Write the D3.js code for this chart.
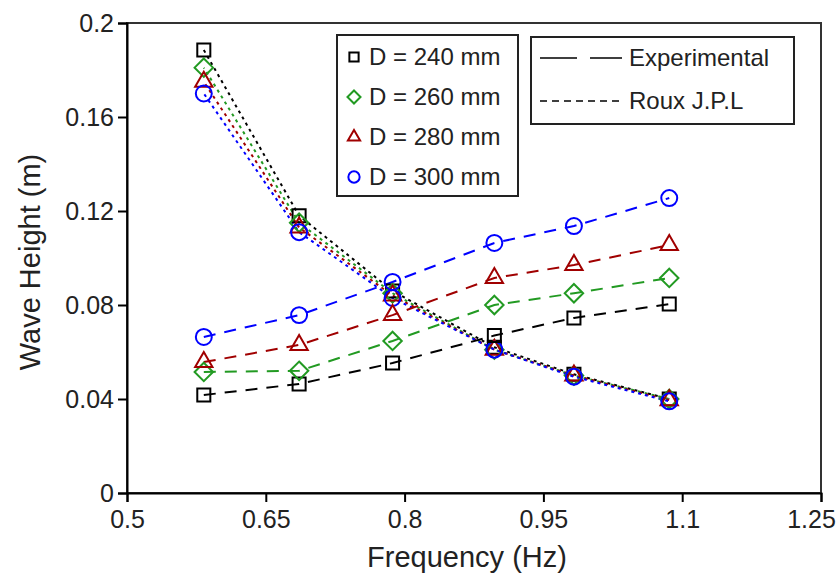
<!DOCTYPE html>
<html>
<head>
<meta charset="utf-8">
<script src="https://cdn.jsdelivr.net/npm/d3@7"></script>
<style>
  html, body { margin: 0; padding: 0; background: #fff; }
  svg { display: block; font-family: "Liberation Sans", Arial, sans-serif; }
</style>
</head>
<body>
<div id="chart"></div>
<script>
const frequencies = [0.583, 0.686, 0.787, 0.897, 0.983, 1.086];
const seriesLabels = ["D = 240 mm", "D = 260 mm", "D = 280 mm", "D = 300 mm"];
const seriesColors = ["#000000", "#229a22", "#a00000", "#0000ff"];
const seriesSymbols = ["square", "diamond", "triangle", "circle"];

const expD240 = [0.0417, 0.0464, 0.0553, 0.0670, 0.0745, 0.0804];
const expD260 = [0.0515, 0.0520, 0.0647, 0.0800, 0.0850, 0.0915];
const expD280 = [0.0557, 0.0630, 0.0757, 0.0915, 0.0970, 0.1055];
const expD300 = [0.0664, 0.0757, 0.0898, 0.1064, 0.1136, 0.1255];

const rouxD240 = [0.1885, 0.1180, 0.0860, 0.0620, 0.0505, 0.0400];
const rouxD260 = [0.1810, 0.1150, 0.0850, 0.0610, 0.0500, 0.0400];
const rouxD280 = [0.1750, 0.1130, 0.0840, 0.0610, 0.0500, 0.0395];
const rouxD300 = [0.1700, 0.1110, 0.0830, 0.0610, 0.0495, 0.0390];

const xTicks = [0.5, 0.65, 0.8, 0.95, 1.1, 1.25];
const yTicks = [0, 0.04, 0.08, 0.12, 0.16, 0.2];

const expSeries = [expD240, expD260, expD280, expD300];
const rouxSeries = [rouxD240, rouxD260, rouxD280, rouxD300];

const width = 838, height = 583;
const margin = { top: 23, right: 17, bottom: 90, left: 127 };

const x = d3.scaleLinear().domain([0.5, 1.25]).range([margin.left, width - margin.right]);
const y = d3.scaleLinear().domain([0, 0.2]).range([height - margin.bottom, margin.top]);

const svg = d3.select("#chart").append("svg")
  .attr("width", width)
  .attr("height", height);

// frame (top / right)
svg.append("rect")
  .attr("x", x(0.5)).attr("y", y(0.2))
  .attr("width", x(1.25) - x(0.5)).attr("height", y(0) - y(0.2))
  .attr("fill", "none").attr("stroke", "#333").attr("stroke-width", 2);

const xAxis = svg.append("g")
  .attr("transform", `translate(0,${y(0)})`)
  .call(d3.axisBottom(x).tickValues(xTicks).tickSize(9).tickPadding(8)
    .tickFormat(d => String(d)));
const yAxis = svg.append("g")
  .attr("transform", `translate(${x(0.5)},0)`)
  .call(d3.axisLeft(y).tickValues(yTicks).tickSize(9).tickPadding(4)
    .tickFormat(d => String(d)));

[xAxis, yAxis].forEach(a => {
  a.select(".domain").attr("stroke", "#000").attr("stroke-width", 2);
  a.selectAll(".tick line").attr("stroke", "#000").attr("stroke-width", 2);
  a.selectAll(".tick text").attr("fill", "#222").style("font-size", "25px")
    .style("font-family", "'Liberation Sans', Arial, sans-serif");
});
// last x label sits a bit inside the edge, as in the original
xAxis.selectAll(".tick text").filter(d => d === 1.25).attr("x", -10);

svg.append("text")
  .attr("x", 467).attr("y", 567)
  .attr("text-anchor", "middle")
  .style("font-size", "29px").attr("fill", "#222")
  .text("Frequency (Hz)");

svg.append("text")
  .attr("transform", "translate(40,262) rotate(-90)")
  .attr("text-anchor", "middle")
  .style("font-size", "29px").attr("fill", "#222")
  .text("Wave Height (m)");

const diamond = {
  draw(ctx, size) {
    const r = Math.sqrt(size / 2);
    ctx.moveTo(0, -r); ctx.lineTo(r, 0); ctx.lineTo(0, r); ctx.lineTo(-r, 0); ctx.closePath();
  }
};
const symbolTypes = { square: d3.symbolSquare, circle: d3.symbolCircle, triangle: d3.symbolTriangle, diamond: diamond };
const symbolSizes = { square: 170, circle: 200, triangle: 130, diamond: 170 };

const line = d3.line()
  .x((d, i) => x(frequencies[i]))
  .y(d => y(d));

// Roux J.P.L (dotted)
rouxSeries.forEach((vals, s) => {
  svg.append("path").datum(vals)
    .attr("d", line)
    .attr("fill", "none")
    .attr("stroke", seriesColors[s])
    .attr("stroke-width", 2)
    .attr("stroke-dasharray", "3,4")
    .attr("stroke-dashoffset", s * 2);
});

// Experimental (long dash)
expSeries.forEach((vals, s) => {
  svg.append("path").datum(vals)
    .attr("d", line)
    .attr("fill", "none")
    .attr("stroke", seriesColors[s])
    .attr("stroke-width", 2)
    .attr("stroke-dasharray", "12,9");
});

function drawMarkers(vals, s) {
  const sym = seriesSymbols[s];
  svg.append("g").selectAll("path")
    .data(vals)
    .join("path")
    .attr("transform", (d, i) => `translate(${x(frequencies[i])},${y(d)})`)
    .attr("d", d3.symbol().type(symbolTypes[sym]).size(symbolSizes[sym]))
    .attr("fill", "none")
    .attr("stroke", seriesColors[s])
    .attr("stroke-width", 2);
}
rouxSeries.forEach(drawMarkers);
expSeries.forEach(drawMarkers);

// legend 1: series
const leg1 = svg.append("g");
leg1.append("rect")
  .attr("x", 337).attr("y", 35).attr("width", 181).attr("height", 161)
  .attr("fill", "#fff").attr("stroke", "#222").attr("stroke-width", 2);
seriesLabels.forEach((lab, s) => {
  const yy = 57 + s * 40;
  const sym = seriesSymbols[s];
  leg1.append("path")
    .attr("transform", `translate(354,${yy})`)
    .attr("d", d3.symbol().type(symbolTypes[sym]).size(symbolSizes[sym] * 0.5))
    .attr("fill", "none").attr("stroke", seriesColors[s]).attr("stroke-width", 2);
  leg1.append("text")
    .attr("x", 369).attr("y", yy + 8)
    .style("font-size", "24px").attr("fill", "#222")
    .text(lab);
});

// legend 2: line styles
const styleLabels = ["Experimental", "Roux J.P.L"];
const styleDashes = ["37,13,32", "7,5"];
const leg2 = svg.append("g");
leg2.append("rect")
  .attr("x", 531).attr("y", 37).attr("width", 263).attr("height", 87)
  .attr("fill", "#fff").attr("stroke", "#222").attr("stroke-width", 2);
styleLabels.forEach((lab, k) => {
  const yy = 58 + k * 43;
  leg2.append("line")
    .attr("x1", 540).attr("x2", 622).attr("y1", yy).attr("y2", yy)
    .attr("stroke", "#000").attr("stroke-width", 1.5)
    .attr("stroke-dasharray", styleDashes[k]);
  leg2.append("text")
    .attr("x", 629).attr("y", yy + 8)
    .style("font-size", "24px").attr("fill", "#222")
    .text(lab);
});
</script>
</body>
</html>
